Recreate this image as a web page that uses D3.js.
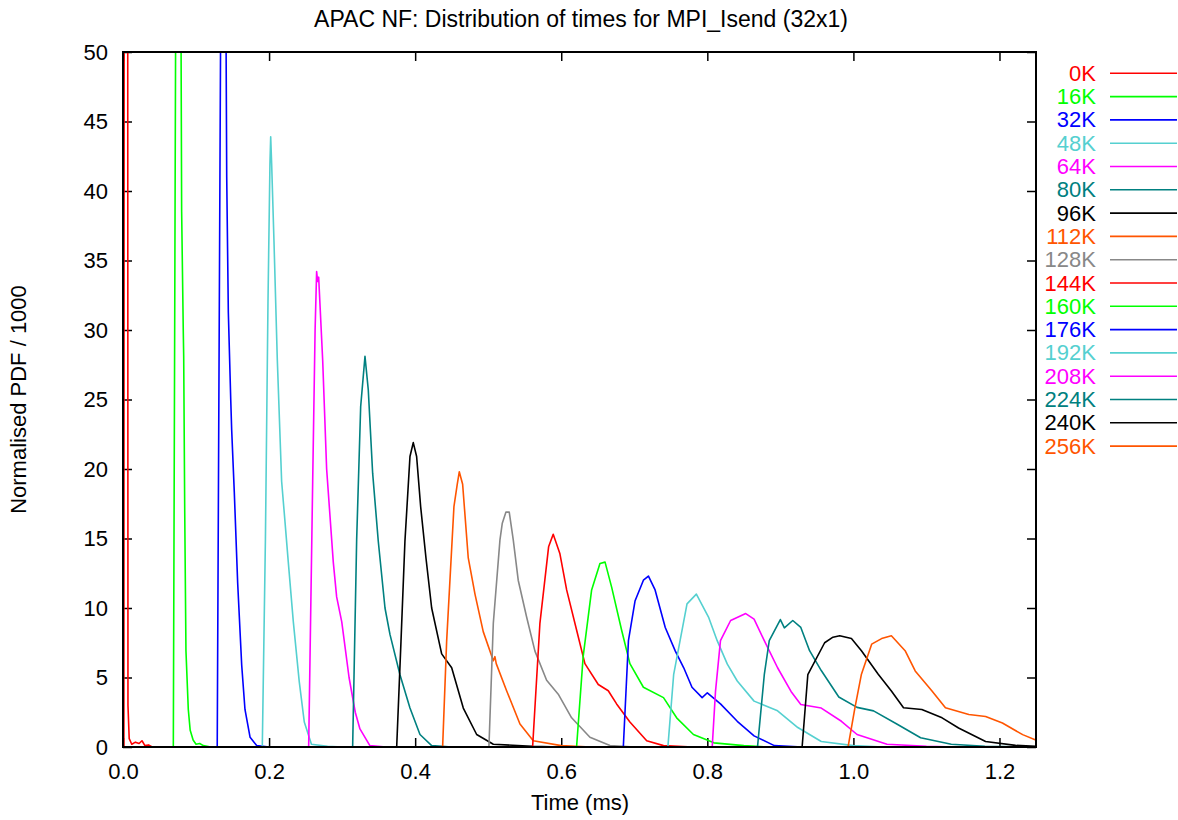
<!DOCTYPE html>
<html>
<head>
<meta charset="utf-8">
<script src="https://cdn.jsdelivr.net/npm/d3@7"></script>
<style>
  body { margin: 0; background: #fff; }
  text { font-family: "Liberation Sans", Arial, sans-serif; }
</style>
</head>
<body>
<div id="chart-container"></div>
<script>
// set variables, axes, scales here
const width = 1178;
const height = 820;
const margin = {top: 52, right: 142, bottom: 73, left: 123};

// message sizes (legend labels)
const sizes = ['0K', '16K', '32K', '48K', '64K', '80K', '96K', '112K', '128K',
               '144K', '160K', '176K', '192K', '208K', '224K', '240K', '256K'];

const x_ticks = [0.0, 0.2, 0.4, 0.6, 0.8, 1.0, 1.2];
const y_ticks = [0, 5, 10, 15, 20, 25, 30, 35, 40, 45, 50];

// [time (ms), normalised pdf / 1000]
const pdf_0K = [[0,0],[0.0012,0],[0.0018,95],[0.0062,95],[0.0068,3],[0.0085,0.6],[0.012,0.2],[0.017,0.35],[0.022,0.25],[0.026,0.45],[0.03,0.1],[0.035,0.15],[0.04,0],[1.25,0]];
const pdf_16K = [[0,0],[0.0689,0],[0.0721,52],[0.0794,52],[0.0803,38.5],[0.0825,30],[0.0831,28.1],[0.0845,17],[0.0862,6.9],[0.0894,2.7],[0.092,1.2],[0.096,0.5],[0.1,0.2],[0.105,0.25],[0.11,0.1],[0.12,0],[1.25,0]];
const pdf_32K = [[0,0],[0.129,0],[0.1337,52],[0.141,52],[0.142,41],[0.1442,31.3],[0.1475,25],[0.1488,22.8],[0.1524,18.3],[0.157,11.8],[0.1625,5.9],[0.167,2.7],[0.174,0.7],[0.183,0.1],[0.2,0],[1.25,0]];
const pdf_48K = [[0,0],[0.1907,0],[0.195,15],[0.1985,32],[0.2012,42],[0.2022,43.9],[0.2035,42],[0.2067,36.4],[0.2113,27.8],[0.2172,19.1],[0.2218,16.2],[0.2263,13.3],[0.2332,9.0],[0.2413,4.7],[0.2482,1.8],[0.258,0.2],[0.28,0.05],[0.3,0],[1.25,0]];
const pdf_64K = [[0,0],[0.2542,0],[0.2597,19.1],[0.263,30],[0.2651,34.2],[0.2665,33.5],[0.2679,33.8],[0.2734,27.8],[0.2788,20],[0.2879,13.3],[0.2925,10.8],[0.2995,9.0],[0.3095,5.0],[0.318,2.5],[0.3244,1.3],[0.338,0.1],[0.36,0],[1.25,0]];
const pdf_80K = [[0,0],[0.3144,0],[0.3199,14.9],[0.3254,24.5],[0.3313,28.1],[0.3358,25.7],[0.3418,19.7],[0.3495,14.8],[0.3587,10.0],[0.3655,8.1],[0.3792,5.2],[0.3929,2.8],[0.4066,0.9],[0.4226,0.1],[0.45,0],[1.25,0]];
const pdf_96K = [[0,0],[0.3747,0],[0.3806,7.6],[0.386,14.8],[0.3929,20.9],[0.3974,21.9],[0.402,20.9],[0.4075,17.3],[0.4148,13.6],[0.4226,10.0],[0.4363,6.7],[0.45,5.7],[0.4659,2.8],[0.4842,0.9],[0.507,0.2],[0.56,0.05],[0.6,0],[1.25,0]];
const pdf_112K = [[0,0],[0.4376,0],[0.4431,7.6],[0.4531,17.3],[0.4576,18.9],[0.4604,19.8],[0.465,18.9],[0.4727,13.6],[0.4819,11],[0.4932,8.3],[0.507,6.2],[0.5092,6.5],[0.511,6.0],[0.5252,4.05],[0.5435,1.65],[0.5617,0.45],[0.6,0.1],[0.64,0],[1.25,0]];
const pdf_128K = [[0,0],[0.501,0],[0.507,8.9],[0.5161,14.9],[0.5193,16.1],[0.5243,16.9],[0.5288,16.9],[0.5343,14.9],[0.5411,12.0],[0.5526,9.35],[0.564,6.9],[0.58,4.8],[0.5959,3.8],[0.6142,2.1],[0.6393,0.7],[0.6667,0.1],[0.7,0],[1.25,0]];
const pdf_144K = [[0,0],[0.5608,0],[0.5708,8.9],[0.5827,14.4],[0.589,15.3],[0.5982,13.9],[0.6074,11.3],[0.6211,8.4],[0.6324,6.0],[0.6507,4.5],[0.6644,4.05],[0.6758,3.1],[0.694,1.8],[0.717,0.45],[0.74,0.1],[0.78,0],[1.25,0]];
const pdf_160K = [[0,0],[0.621,0],[0.63,6.5],[0.6416,11.3],[0.653,13.2],[0.66,13.3],[0.669,11.5],[0.6827,8.4],[0.694,6.0],[0.7125,4.3],[0.74,3.55],[0.758,2.1],[0.781,0.9],[0.809,0.3],[0.85,0.1],[0.88,0],[1.25,0]];
const pdf_176K = [[0,0],[0.685,0],[0.692,7.65],[0.701,10.5],[0.7125,12.0],[0.7194,12.3],[0.7285,11.3],[0.7424,8.6],[0.7562,6.9],[0.7677,5.7],[0.779,4.3],[0.7929,3.55],[0.80,3.9],[0.818,3.1],[0.841,1.85],[0.864,0.8],[0.8917,0.1],[0.93,0],[1.25,0]];
const pdf_192K = [[0,0],[0.746,0],[0.7539,5.2],[0.7722,10.3],[0.785,11.0],[0.802,9.3],[0.8135,7.65],[0.8274,5.96],[0.841,4.75],[0.864,3.3],[0.8962,2.6],[0.9239,1.4],[0.956,0.4],[1.0,0.1],[1.04,0],[1.25,0]];
const pdf_208K = [[0,0],[0.8067,0],[0.8112,4.0],[0.818,7.65],[0.8319,9.1],[0.8526,9.6],[0.864,9.2],[0.878,7.65],[0.8962,5.7],[0.9146,4.0],[0.928,3.06],[0.956,2.8],[0.9836,1.85],[1.005,0.9],[1.046,0.2],[1.1,0.05],[1.14,0],[1.25,0]];
const pdf_224K = [[0,0],[0.8687,0],[0.878,5.2],[0.8848,7.65],[0.90,9.17],[0.9055,8.57],[0.917,9.1],[0.928,8.6],[0.94,6.93],[0.956,5.5],[0.98,3.6],[1.005,2.85],[1.0276,2.6],[1.06,1.64],[1.092,0.67],[1.134,0.2],[1.18,0.05],[1.25,0]];
const pdf_240K = [[0,0],[0.9298,0],[0.9376,5.2],[0.9606,7.5],[0.972,7.9],[0.9813,8.0],[0.9973,7.8],[1.011,6.93],[1.034,5.24],[1.052,4.03],[1.0686,2.82],[1.0937,2.7],[1.1214,2.1],[1.144,1.37],[1.181,0.4],[1.222,0.12],[1.25,0.05]];
const pdf_256K = [[0,0],[0.9927,0],[1.002,2.8],[1.011,5.24],[1.025,7.4],[1.0386,7.8],[1.052,8.0],[1.0708,6.93],[1.0846,5.47],[1.1076,4.03],[1.126,2.82],[1.158,2.34],[1.181,2.2],[1.204,1.73],[1.2317,0.89],[1.252,0.45]];

const all_pdfs = [pdf_0K, pdf_16K, pdf_32K, pdf_48K, pdf_64K, pdf_80K, pdf_96K, pdf_112K, pdf_128K,
                  pdf_144K, pdf_160K, pdf_176K, pdf_192K, pdf_208K, pdf_224K, pdf_240K, pdf_256K];

// gnuplot style line colours (cycle of 9)
const palette = ["#ff0000", "#00ff00", "#0000ff", "#55d0d0", "#ff00ff", "#008080", "#000000", "#ff5500", "#888888"];

const font_size = 22;

var svg = d3.select("#chart-container")
            .append('svg')
            .attr('width', width)
            .attr('height', height);

const plot_w = width - margin.left - margin.right;
const plot_h = height - margin.top - margin.bottom;

var x_scale = d3.scaleLinear()
                .domain([0, 1.25])
                .range([margin.left, margin.left + plot_w]);

var y_scale = d3.scaleLinear()
                .domain([0, 50])
                .range([margin.top + plot_h, margin.top]);

// clip so the tall early spikes get cut at the top border
svg.append('clipPath').attr('id', 'plot-clip')
    .append('rect')
    .attr('x', margin.left).attr('y', margin.top)
    .attr('width', plot_w).attr('height', plot_h);

// ticks (inward, mirrored on all four sides)
const tick_len = 9;
const styleAxis = g => {
    g.select('.domain').remove();
    g.selectAll('.tick line').attr('stroke', '#000').attr('stroke-width', 1.5);
    g.selectAll('text').attr('font-size', font_size).attr('fill', '#000')
        .attr('font-family', '"Liberation Sans", Arial, sans-serif');
};

svg.append('g')
    .attr('transform', `translate(0, ${margin.top + plot_h})`)
    .call(d3.axisBottom(x_scale).tickValues(x_ticks).tickFormat(d3.format('.1f'))
        .tickSizeInner(-tick_len).tickPadding(tick_len + 7))
    .call(styleAxis);

svg.append('g')
    .attr('transform', `translate(0, ${margin.top})`)
    .call(d3.axisTop(x_scale).tickValues(x_ticks).tickFormat('').tickSizeInner(-tick_len))
    .call(styleAxis);

svg.append('g')
    .attr('transform', `translate(${margin.left}, 0)`)
    .call(d3.axisLeft(y_scale).tickValues(y_ticks)
        .tickSizeInner(-tick_len).tickPadding(tick_len + 6))
    .call(styleAxis);

svg.append('g')
    .attr('transform', `translate(${margin.left + plot_w}, 0)`)
    .call(d3.axisRight(y_scale).tickValues(y_ticks).tickFormat('').tickSizeInner(-tick_len))
    .call(styleAxis);

// the lines
const line = d3.line()
    .x(d => x_scale(d[0]))
    .y(d => y_scale(d[1]));

svg.append('g')
    .attr('clip-path', 'url(#plot-clip)')
    .selectAll('.pdf')
    .data(all_pdfs)
    .enter()
    .append('path')
    .attr('class', 'pdf')
    .attr('d', d => line(d))
    .attr('fill', 'none')
    .attr('stroke', (d, i) => palette[i % palette.length])
    .attr('stroke-width', 1.6)
    .attr('stroke-linejoin', 'round');

// border
svg.append('rect')
    .attr('x', margin.left).attr('y', margin.top)
    .attr('width', plot_w).attr('height', plot_h)
    .attr('fill', 'none')
    .attr('stroke', '#000')
    .attr('stroke-width', 2);

// legend
const legend = svg.append('g').attr('class', 'legend');
const leg_y0 = 73.3, leg_step = 23.3;
sizes.forEach((s, i) => {
    const c = palette[i % palette.length];
    const yy = leg_y0 + i * leg_step;
    legend.append('text')
        .attr('x', 1096).attr('y', yy + 7.5)
        .attr('text-anchor', 'end')
        .attr('font-size', font_size)
        .attr('fill', c)
        .text(s);
    legend.append('line')
        .attr('x1', 1110).attr('x2', 1177)
        .attr('y1', yy).attr('y2', yy)
        .attr('stroke', c)
        .attr('stroke-width', 1.6);
});

// title and axis labels
svg.append('text')
    .attr('x', 581).attr('y', 27)
    .attr('text-anchor', 'middle')
    .attr('font-size', 23)
    .text('APAC NF: Distribution of times for MPI_Isend (32x1)');

svg.append('text')
    .attr('x', 580).attr('y', 810)
    .attr('text-anchor', 'middle')
    .attr('font-size', font_size)
    .text('Time (ms)');

svg.append('g').attr('transform', `translate(26, ${margin.top + plot_h / 2})`)
    .append('text')
    .attr('transform', 'rotate(-90)')
    .attr('text-anchor', 'middle')
    .attr('font-size', font_size)
    .text('Normalised PDF / 1000');
</script>
</body>
</html>
